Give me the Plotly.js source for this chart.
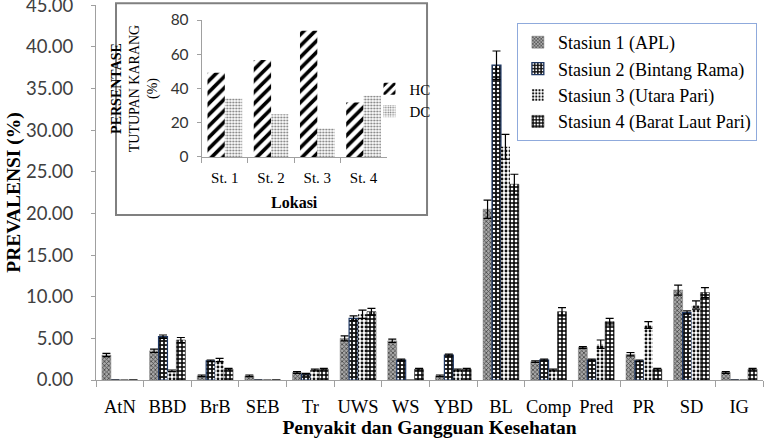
<!DOCTYPE html>
<html>
<head>
<meta charset="utf-8">
<script src="https://cdn.plot.ly/plotly-3.0.1.min.js"></script>
<style>html,body{margin:0;padding:0;background:#fff}#chart{width:770px;height:440px}</style>
</head>
<body>
<div id="chart"></div>
<script>
const categories = ["AtN","BBD","BrB","SEB","Tr","UWS","WS","YBD","BL","Comp","Pred","PR","SD","IG"];
const seriesNames = ["Stasiun 1 (APL)","Stasiun 2 (Bintang Rama)","Stasiun 3 (Utara Pari)","Stasiun 4 (Barat Laut Pari)"];
const st1 = [3.0,3.5,0.5,0.5,0.9,5.0,4.7,0.5,20.5,2.2,3.9,3.1,10.8,0.9];
const st2 = [0,5.2,2.3,0,0.7,7.4,2.4,3.0,37.8,2.4,2.4,2.3,8.1,0];
const st3 = [0,1.1,2.4,0,1.2,7.9,0,1.2,28.0,1.2,4.3,6.6,9.0,0];
const st4 = [0,4.8,1.3,0,1.3,8.2,1.3,1.3,23.5,8.2,7.0,1.3,10.5,1.3];
const err1 = [0.2,0.2,0.1,0.1,0.1,0.3,0.2,0.1,1.1,0.1,0.1,0.2,0.6,0.1];
const err2 = [null,0.2,0.1,null,0.1,0.3,0.1,0.1,1.7,0.1,0.1,0.1,0.2,null];
const err3 = [null,0.1,0.2,null,0.1,0.5,null,0.1,1.5,0.1,0.5,0.4,0.5,null];
const err4 = [null,0.3,0.1,null,0.1,0.4,0.1,0.1,1.2,0.5,0.4,0.1,0.6,0.1];
const yTicks = [0,5,10,15,20,25,30,35,40,45];

const insetCats = ["St. 1","St. 2","St. 3","St. 4"];
const hc = [49.2,56.6,73.7,31.8];
const dc = [34.2,25.0,16.6,35.7];
const insetTicks = [0,20,40,60,80];

const serif = "'Liberation Serif', 'Times New Roman', serif";
const sans = "Lato, 'Open Sans', sans-serif";

const styles = [
  {color:'#8a8a8a', line:{color:'#7a7a7a',width:0.5}, pattern:{shape:'x', fgcolor:'#444444', bgcolor:'#a8a8a8', size:3, solidity:0.45}},
  {color:'#111111', line:{color:'#1f3864',width:1.2}, pattern:{shape:'.', fgcolor:'#ffffff', bgcolor:'#111111', size:4, solidity:0.3}},
  {color:'#ffffff', line:{color:'#ffffff',width:0}, pattern:{shape:'.', fgcolor:'#111111', bgcolor:'#ffffff', size:4, solidity:0.4}},
  {color:'#ffffff', line:{color:'#000000',width:0.5}, pattern:{shape:'+', fgcolor:'#000000', bgcolor:'#ffffff', size:4, solidity:0.6}}
];
const vals = [st1,st2,st3,st4];
const errs = [err1,err2,err3,err4];

const traces = vals.map((v,i)=>({
  type:'bar', x:categories, y:v, name:seriesNames[i],
  marker:styles[i],
  error_y:{type:'data', array:errs[i], visible:true, color:'#000000', thickness:1.2, width:4},
  xaxis:'x', yaxis:'y', legend:'legend'
}));

traces.push({
  type:'bar', x:insetCats, y:hc, name:'HC', xaxis:'x2', yaxis:'y2', legend:'legend2',
  marker:{color:'#ffffff', line:{width:0}, pattern:{shape:'/', fgcolor:'#000000', bgcolor:'#ffffff', size:8, solidity:0.45}}
});
traces.push({
  type:'bar', x:insetCats, y:dc, name:'DC', xaxis:'x2', yaxis:'y2', legend:'legend2',
  marker:{color:'#ffffff', line:{width:0}, pattern:{shape:'.', fgcolor:'#777777', bgcolor:'#ffffff', size:3, solidity:0.35}}
});

const layout = {
  width:770, height:440,
  margin:{l:96, r:7, t:5, b:60},
  paper_bgcolor:'#ffffff', plot_bgcolor:'#ffffff',
  font:{family:serif, color:'#000'},
  barmode:'group', bargap:0.25, bargroupgap:0,
  showlegend:true,
  xaxis:{
    domain:[0,1], type:'category', tickson:'boundaries', ticks:'outside', ticklen:6, tickcolor:'#a0a0a0',
    ticklabelstandoff:10, tickangle:0,
    showline:true, linecolor:'#a0a0a0', linewidth:1, showgrid:false,
    tickfont:{family:serif, size:18.5, color:'#000'},
    title:{text:'<b>Penyakit dan Gangguan Kesehatan</b>', font:{family:serif, size:19.5, color:'#000'}, standoff:3}
  },
  yaxis:{
    domain:[0,1], range:[0,45.02], tickvals:yTicks, ticktext:yTicks.map(t=>t.toFixed(2)),
    ticks:'outside', ticklen:4, tickcolor:'#a0a0a0', showline:true, linecolor:'#a0a0a0', showgrid:false, zeroline:false,
    ticklabelstandoff:14, ticklabeloverflow:'allow',
    tickfont:{family:sans, size:18.5, color:'#404040'},
    title:{text:'<b>PREVALENSI (%)</b>', font:{family:serif, size:19.5, color:'#000'}, standoff:0}
  },
  xaxis2:{
    domain:[0.1585,0.4358], anchor:'y2', type:'category', tickson:'boundaries', ticks:'outside', ticklen:5, tickcolor:'#a0a0a0',
    ticklabelstandoff:7, tickangle:0,
    showline:true, linecolor:'#a0a0a0', showgrid:false,
    tickfont:{family:serif, size:15, color:'#000'},
    title:{text:'<b>Lokasi</b>', font:{family:serif, size:16, color:'#000'}, standoff:11}
  },
  yaxis2:{
    domain:[0.5947,0.96], anchor:'x2', range:[0,80], tickvals:insetTicks,
    ticks:'outside', ticklen:4, tickcolor:'#a0a0a0', showline:true, linecolor:'#a0a0a0', showgrid:false, zeroline:false,
    ticklabelstandoff:5,
    tickfont:{family:sans, size:15.5, color:'#333'},
    title:{text:'<b>PERSENTASE</b><br>TUTUPAN KARANG<br>(%)', font:{family:serif, size:14, color:'#000'}, standoff:9}
  },
  legend:{
    x:0.631, y:0.952, xanchor:'left', yanchor:'top', bgcolor:'#ffffff',
    bordercolor:'#8faadc', borderwidth:1, font:{family:serif, size:18, color:'#000'},
    itemwidth:30, tracegroupgap:0
  },
  legend2:{
    x:0.41, y:0.82, xanchor:'left', yanchor:'top', bgcolor:'rgba(0,0,0,0)',
    borderwidth:0, font:{family:serif, size:15, color:'#000'}, itemwidth:30, tracegroupgap:6
  },
  shapes:[{
    type:'rect', xref:'paper', yref:'paper', x0:0.030, x1:0.4963, y0:0.44, y1:1.005,
    line:{color:'#808080', width:2}, fillcolor:'#ffffff', layer:'below'
  }]
};

Plotly.newPlot('chart', traces, layout, {displayModeBar:false, staticPlot:true});
</script>
</body>
</html>
